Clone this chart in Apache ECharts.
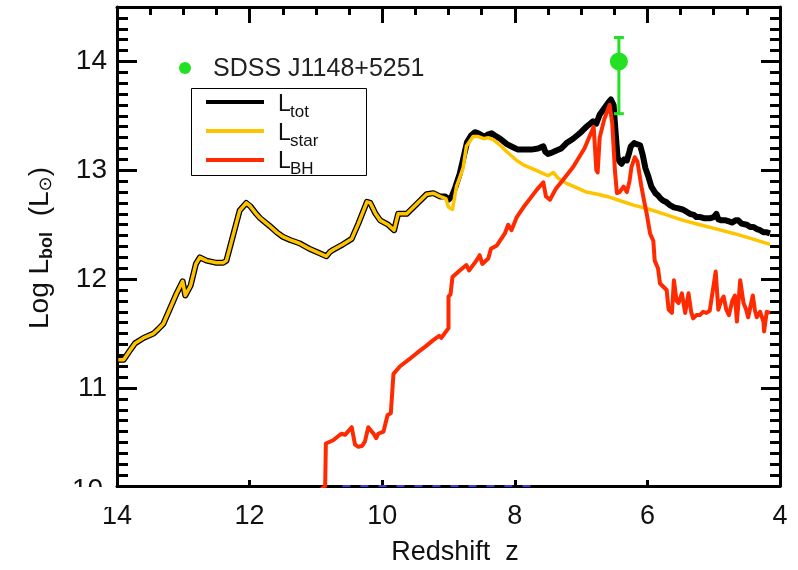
<!DOCTYPE html>
<html>
<head>
<meta charset="utf-8">
<script src="https://cdn.jsdelivr.net/npm/echarts@6/dist/echarts.min.js"></script>
<style>
html,body{margin:0;padding:0;background:#fff;}
#chart{width:798px;height:570px;}
</style>
</head>
<body>
<div id="chart"></div>
<script>
// ---- Data ----
// L_star: [redshift z, log L]
const starData = [[13.98,11.26],[13.9,11.26],[13.8,11.35],[13.73,11.41],[13.6,11.46],[13.45,11.5],[13.38,11.54],[13.3,11.59],[13.2,11.73],[13.1,11.87],[13.01,11.98],[12.97,11.85],[12.89,11.94],[12.81,12.14],[12.75,12.2],[12.65,12.17],[12.5,12.15],[12.4,12.15],[12.35,12.17],[12.25,12.4],[12.15,12.63],[12.05,12.7],[11.99,12.67],[11.9,12.6],[11.84,12.56],[11.7,12.49],[11.59,12.43],[11.5,12.39],[11.39,12.36],[11.25,12.33],[11.1,12.28],[10.95,12.24],[10.84,12.21],[10.79,12.25],[10.74,12.27],[10.59,12.32],[10.46,12.37],[10.36,12.51],[10.23,12.71],[10.18,12.7],[10.1,12.6],[10.03,12.54],[9.91,12.5],[9.82,12.45],[9.76,12.6],[9.63,12.6],[9.48,12.69],[9.33,12.78],[9.23,12.79],[9.13,12.76],[9.04,12.74],[9.0,12.66],[8.94,12.64],[8.88,12.85],[8.78,13.02],[8.73,13.22],[8.63,13.31],[8.55,13.31],[8.47,13.29],[8.4,13.3],[8.32,13.28],[8.22,13.23],[8.12,13.17],[7.97,13.09],[7.87,13.05],[7.72,13.01],[7.57,12.97],[7.5,12.95],[7.42,12.98],[7.35,12.93],[7.22,12.88],[7.07,12.84],[6.92,12.8],[6.75,12.78],[6.61,12.76],[6.41,12.72],[6.21,12.68],[5.96,12.64],[5.71,12.59],[5.46,12.54],[5.21,12.5],[4.95,12.46],[4.7,12.42],[4.42,12.37],[4.15,12.32]];

// L_tot where it departs from L_star (z < 9.05); at higher z it equals L_star
const totLowZ = [[9.05,12.76],[9.0,12.73],[8.95,12.76],[8.9,12.84],[8.83,12.97],[8.78,13.1],[8.72,13.26],[8.66,13.32],[8.6,13.35],[8.55,13.34],[8.5,13.32],[8.45,13.31],[8.4,13.33],[8.35,13.34],[8.3,13.32],[8.22,13.29],[8.12,13.24],[8.02,13.21],[7.95,13.19],[7.87,13.19],[7.75,13.19],[7.65,13.2],[7.57,13.22],[7.54,13.17],[7.5,13.15],[7.45,13.16],[7.38,13.18],[7.3,13.2],[7.22,13.25],[7.12,13.29],[7.02,13.34],[6.92,13.4],[6.82,13.45],[6.77,13.43],[6.72,13.51],[6.65,13.57],[6.58,13.63],[6.55,13.65],[6.51,13.6],[6.48,13.35],[6.45,13.12],[6.42,13.08],[6.39,13.06],[6.35,13.1],[6.31,13.09],[6.28,13.15],[6.25,13.22],[6.2,13.25],[6.16,13.24],[6.11,13.23],[6.07,13.14],[6.03,13.02],[5.99,12.95],[5.94,12.85],[5.88,12.79],[5.84,12.77],[5.8,12.74],[5.76,12.72],[5.72,12.71],[5.66,12.68],[5.6,12.66],[5.53,12.65],[5.47,12.64],[5.41,12.62],[5.36,12.6],[5.3,12.59],[5.26,12.57],[5.2,12.57],[5.15,12.56],[5.11,12.56],[5.05,12.56],[5.0,12.57],[4.96,12.6],[4.93,12.55],[4.88,12.54],[4.82,12.54],[4.77,12.53],[4.72,12.52],[4.67,12.54],[4.63,12.54],[4.58,12.51],[4.55,12.5],[4.5,12.5],[4.45,12.48],[4.4,12.48],[4.35,12.46],[4.3,12.45],[4.25,12.43],[4.2,12.43],[4.15,12.42]];

// L_BH
const bhData = [[11.05,10.0],[10.86,10.1],[10.85,10.49],[10.74,10.52],[10.66,10.56],[10.61,10.58],[10.56,10.57],[10.46,10.64],[10.41,10.48],[10.36,10.46],[10.3,10.47],[10.26,10.51],[10.21,10.64],[10.13,10.58],[10.09,10.54],[10.06,10.58],[9.98,10.6],[9.92,10.75],[9.87,10.77],[9.83,11.13],[9.73,11.2],[9.6,11.26],[9.48,11.32],[9.35,11.38],[9.23,11.44],[9.14,11.48],[9.11,11.46],[9.0,11.55],[9.0,11.84],[8.97,11.86],[8.94,12.02],[8.83,12.08],[8.73,12.13],[8.69,12.08],[8.58,12.17],[8.53,12.22],[8.49,12.14],[8.4,12.19],[8.36,12.28],[8.27,12.31],[8.15,12.42],[8.1,12.5],[8.05,12.45],[7.97,12.57],[7.87,12.66],[7.77,12.74],[7.67,12.82],[7.57,12.89],[7.53,12.76],[7.47,12.73],[7.44,12.72],[7.38,12.83],[7.25,12.93],[7.12,13.03],[6.95,13.2],[6.81,13.4],[6.77,13.0],[6.75,12.98],[6.72,13.3],[6.65,13.47],[6.57,13.6],[6.53,13.43],[6.49,13.0],[6.46,12.79],[6.42,12.8],[6.36,12.85],[6.31,12.8],[6.27,12.9],[6.24,13.03],[6.19,13.12],[6.15,13.08],[6.09,12.85],[6.05,12.72],[6.01,12.6],[5.96,12.42],[5.91,12.35],[5.89,12.17],[5.84,12.1],[5.81,11.96],[5.76,11.93],[5.71,11.9],[5.68,11.72],[5.63,11.69],[5.6,11.99],[5.56,11.8],[5.53,11.78],[5.48,11.87],[5.43,11.69],[5.38,11.87],[5.34,11.7],[5.31,11.64],[5.26,11.67],[5.21,11.67],[5.16,11.7],[5.11,11.69],[5.06,11.71],[5.03,11.7],[4.97,12.07],[4.93,11.72],[4.89,11.8],[4.85,11.84],[4.81,11.72],[4.77,11.67],[4.72,11.8],[4.68,11.85],[4.65,11.61],[4.6,11.99],[4.55,11.78],[4.51,11.72],[4.48,11.65],[4.41,11.85],[4.38,11.72],[4.35,11.65],[4.3,11.7],[4.25,11.61],[4.24,11.52],[4.2,11.7],[4.15,11.69]];

// faint dashed track along the bottom edge
const bottomTrack = [[10.6,10.1],[7.75,10.1]];

// SDSS J1148+5251 observation: [z, logL, upper, lower]
const sdssPoint = [[6.43, 14.0, 14.22, 13.52]];

const xTicks = [14, 12, 10, 8, 6, 4];
const yMajor = [11, 12, 13, 14];
const yMinor = [];
for (let i = 102; i <= 145; i++) { if (i % 10 !== 0) yMinor.push(i / 10); }

const seriesNames = ['L', 'L', 'L'];
const seriesSubs = ['tot', 'star', 'BH'];
const colTot = '#000000', colStar = '#ffc400', colBH = '#ff2a00', colGreen = '#22e022';

// ---- Chart ----
const totData = starData.filter(p => p[0] > 9.05).concat(totLowZ);
const chart = echarts.init(document.getElementById('chart'), null, {renderer: 'canvas'});
const FONT = 'Liberation Sans';
const yBase = {type: 'value', min: 10.1, max: 14.5, splitLine: {show: false}, axisLabel: {show: false}, axisLine: {show: false}};
chart.setOption({
  animation: false,
  backgroundColor: '#fff',
  grid: {left: 117, right: 18, top: 7, bottom: 84},
  xAxis: [
    {type: 'value', min: 4, max: 14, interval: 2, inverse: true, position: 'bottom',
     axisLine: {lineStyle: {color: '#000', width: 3}},
     axisTick: {inside: true, length: 6, lineStyle: {width: 3, color: '#000'}},
     minorTick: {show: false},
     splitLine: {show: false},
     axisLabel: {color: '#111', fontFamily: FONT, fontSize: 27, margin: 17,
       customValues: xTicks}},
    {type: 'value', min: 4, max: 14, interval: 2, inverse: true, position: 'top',
     axisLine: {lineStyle: {color: '#000', width: 3}},
     axisTick: {inside: true, length: 16, lineStyle: {width: 3, color: '#000'}},
     minorTick: {show: true, splitNumber: 4, length: 8, lineStyle: {width: 3, color: '#000'}},
     splitLine: {show: false}, axisLabel: {show: false}}
  ],
  yAxis: [
    Object.assign({}, yBase, {position: 'left',
      axisLine: {show: true, lineStyle: {color: '#000', width: 3}},
      axisTick: {inside: true, length: 20, customValues: yMajor, lineStyle: {width: 3, color: '#000'}},
      axisLabel: {show: true, customValues: yMajor, color: '#111', fontFamily: FONT, fontSize: 28, margin: 10}}),
    Object.assign({}, yBase, {position: 'left',
      axisTick: {inside: true, length: 11, customValues: yMinor, lineStyle: {width: 3, color: '#000'}}}),
    Object.assign({}, yBase, {position: 'right',
      axisLine: {show: true, lineStyle: {color: '#000', width: 3}},
      axisTick: {inside: true, length: 19, customValues: yMajor, lineStyle: {width: 3, color: '#000'}}}),
    Object.assign({}, yBase, {position: 'right',
      axisTick: {inside: true, length: 10, customValues: yMinor, lineStyle: {width: 3, color: '#000'}}})
  ],
  series: [
    {type: 'line', name: 'tot', data: totData, symbol: 'none', z: 2,
     lineStyle: {color: colTot, width: 6, join: 'round'}},
    {type: 'line', name: 'star', data: starData, symbol: 'none', z: 3,
     lineStyle: {color: colStar, width: 3.5, join: 'round'}},
    {type: 'line', name: 'BH', data: bhData, symbol: 'none', z: 4,
     lineStyle: {color: colBH, width: 4, join: 'round'}},
    {type: 'line', name: 'track', data: bottomTrack, symbol: 'none', z: 3, clip: false,
     lineStyle: {color: '#3a3ae0', width: 2, type: [8, 10]}},
    {type: 'custom', name: 'err', data: sdssPoint, z: 5, clip: false,
     renderItem: function (params, api) {
       const c = api.coord([api.value(0), api.value(2)]);
       const b = api.coord([api.value(0), api.value(3)]);
       const st = {stroke: colGreen, lineWidth: 3};
       return {type: 'group', children: [
         {type: 'line', shape: {x1: c[0], y1: c[1], x2: b[0], y2: b[1]}, style: st},
         {type: 'line', shape: {x1: c[0] - 5, y1: c[1], x2: c[0] + 5, y2: c[1]}, style: st},
         {type: 'line', shape: {x1: b[0] - 5, y1: b[1], x2: b[0] + 5, y2: b[1]}, style: st}
       ]};
     }},
    {type: 'scatter', name: 'SDSS J1148+5251', data: sdssPoint.map(p => [p[0], p[1]]), z: 6,
     symbol: 'circle', symbolSize: 18, itemStyle: {color: colGreen, opacity: 1}}
  ],
  graphic: [
    // partially visible '10' label at the lower-left corner
    {type: 'text', left: 72, top: 476, z: 10, style: {text: '10', fontFamily: FONT, fontSize: 28, fill: '#111'}},
    {type: 'rect', shape: {x: 60, y: 487, width: 54, height: 20}, style: {fill: '#fff'}, z: 11},
    // axis titles
    {type: 'text', z: 10, x: 455, y: 553,
     style: {text: 'Redshift  z', fontFamily: FONT, fontSize: 27, fill: '#111', align: 'center', verticalAlign: 'middle'}},
    {type: 'text', z: 10, x: 40, y: 248, rotation: Math.PI / 2,
     style: {text: 'Log L{b|bol}  (L{s|⊙})', fontFamily: FONT, fontSize: 28, fill: '#111', align: 'center', verticalAlign: 'middle',
       rich: {b: {fontFamily: FONT, fontSize: 18, fontWeight: 'bold', fill: '#111', padding: [15, 0, 0, 0]},
              s: {fontFamily: 'DejaVu Sans', fontSize: 18, fill: '#111', padding: [13, 0, 0, 0]}}}},
    // SDSS annotation
    {type: 'circle', z: 10, shape: {cx: 185, cy: 68, r: 6}, style: {fill: colGreen}},
    {type: 'text', z: 10, x: 213, y: 69,
     style: {text: 'SDSS J1148+5251', fontFamily: FONT, fontSize: 25, fill: '#222', verticalAlign: 'middle'}},
    // legend box
    {type: 'rect', z: 10, shape: {x: 191.5, y: 88.5, width: 175, height: 87}, style: {fill: '#fff', stroke: '#000', lineWidth: 1}},
    {type: 'line', z: 11, shape: {x1: 206, y1: 102, x2: 264, y2: 102}, style: {stroke: colTot, lineWidth: 4}},
    {type: 'line', z: 11, shape: {x1: 206, y1: 131, x2: 264, y2: 131}, style: {stroke: colStar, lineWidth: 4}},
    {type: 'line', z: 11, shape: {x1: 206, y1: 160, x2: 264, y2: 160}, style: {stroke: colBH, lineWidth: 4}},
    {type: 'text', z: 11, x: 278, y: 93, style: {text: seriesNames[0], fontFamily: FONT, fontSize: 23, fill: '#111'}},
    {type: 'text', z: 11, x: 290, y: 104, style: {text: seriesSubs[0], fontFamily: FONT, fontSize: 17, fill: '#111'}},
    {type: 'text', z: 11, x: 278, y: 122, style: {text: seriesNames[1], fontFamily: FONT, fontSize: 23, fill: '#111'}},
    {type: 'text', z: 11, x: 290, y: 133, style: {text: seriesSubs[1], fontFamily: FONT, fontSize: 17, fill: '#111'}},
    {type: 'text', z: 11, x: 278, y: 150, style: {text: seriesNames[2], fontFamily: FONT, fontSize: 23, fill: '#111'}},
    {type: 'text', z: 11, x: 290, y: 161, style: {text: seriesSubs[2], fontFamily: FONT, fontSize: 17, fill: '#111'}}
  ]
});
</script>
</body>
</html>
